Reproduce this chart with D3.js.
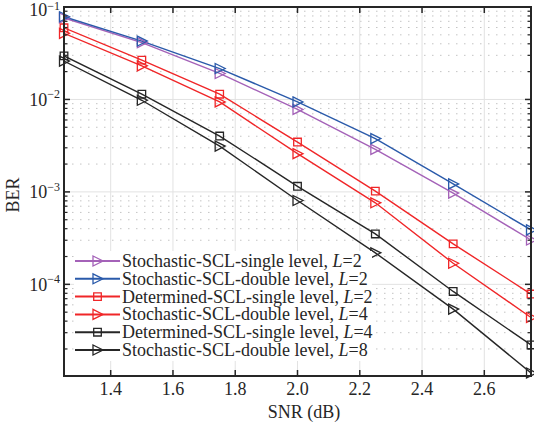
<!DOCTYPE html>
<html>
<head>
<meta charset="utf-8">
<script src="https://cdn.jsdelivr.net/npm/d3@7"></script>
<style>
    body { margin: 0; background: #fff; }
    #chart { width: 534px; height: 428px; }
    text { font-family: "Liberation Serif", "Times New Roman", serif; fill: #262626; }
</style>
</head>
<body>
<div id="chart"></div>
<script>
// SNR points (dB)
const snr = [1.25, 1.5, 1.75, 2.0, 2.25, 2.5, 2.75];

// BER values
const berStochSingleL2 = [0.076, 0.0412, 0.0191, 0.0078, 0.00288, 0.00097, 0.000302];
const berStochDoubleL2 = [0.0785, 0.0428, 0.0216, 0.0094, 0.00377, 0.00122, 0.000388];
const berDetSingleL2 = [0.0596, 0.0266, 0.0114, 0.00346, 0.00102, 0.000274, 0.0000785];
const berStochDoubleL4 = [0.0519, 0.0231, 0.0094, 0.00259, 0.000762, 0.000169, 0.0000438];
const berDetSingleL4 = [0.0296, 0.0114, 0.00402, 0.00115, 0.000351, 0.0000838, 0.0000221];
const berStochDoubleL8 = [0.026, 0.0098, 0.00313, 0.000807, 0.000219, 0.000054, 0.000011];

const seriesNames = [
    'Stochastic-SCL-single level, ',
    'Stochastic-SCL-double level, ',
    'Determined-SCL-single level, ',
    'Stochastic-SCL-double level, ',
    'Determined-SCL-single level, ',
    'Stochastic-SCL-double level, '
];
const listSizes = ['2', '2', '2', '4', '4', '8'];

const xTicks = [1.4, 1.6, 1.8, 2.0, 2.2, 2.4, 2.6];
const yTicks = [1e-1, 1e-2, 1e-3, 1e-4];
const yTickExp = ['\u22121', '\u22122', '\u22123', '\u22124'];

class LineVis {

    constructor(parentElement) {
        this.parentElement = parentElement;
        this.series = [berStochSingleL2, berStochDoubleL2, berDetSingleL2,
                       berStochDoubleL4, berDetSingleL4, berStochDoubleL8];
        this.styles = [
            {color: '#a462b8', marker: 'tri'},
            {color: '#2a5aaa', marker: 'tri'},
            {color: '#f02628', marker: 'sq'},
            {color: '#f02628', marker: 'tri'},
            {color: '#262626', marker: 'sq'},
            {color: '#262626', marker: 'tri'}
        ];
        this.initVis();
    }

    initVis() {
        let vis = this;

        vis.margin = {top: 7, right: 3, bottom: 52, left: 64};
        vis.width = 534 - vis.margin.left - vis.margin.right;
        vis.height = 428 - vis.margin.top - vis.margin.bottom;

        vis.root = d3.select('#' + vis.parentElement).append('svg')
            .attr('width', 534)
            .attr('height', 428);

        vis.svg = vis.root.append('g')
            .attr('transform', `translate(${vis.margin.left},${vis.margin.top})`);

        vis.xScale = d3.scaleLinear()
            .domain([1.25, 2.75])
            .range([0, vis.width]);

        vis.yScale = d3.scaleLog()
            .domain([1.02e-5, 1e-1])
            .range([vis.height, 0]);

        vis.svg.append('clipPath').attr('id', 'plotClip')
            .append('rect').attr('width', vis.width).attr('height', vis.height);

        vis.updateVis();
    }

    updateVis() {
        let vis = this;

        // minor y grid (dotted)
        let minors = [];
        for (let e = -5; e < -1; e++) {
            for (let k = 2; k <= 9; k++) {
                let v = k * Math.pow(10, e);
                if (v > vis.yScale.domain()[0] && v < 1e-1) minors.push(v);
            }
        }
        vis.svg.append('g').selectAll('line')
            .data(minors)
            .enter().append('line')
            .attr('x1', 0).attr('x2', vis.width)
            .attr('y1', d => vis.yScale(d)).attr('y2', d => vis.yScale(d))
            .attr('stroke', '#c4c4c4')
            .attr('stroke-width', 1)
            .attr('stroke-dasharray', '1.5,6.5');

        // major grid
        vis.svg.append('g').selectAll('line')
            .data(xTicks)
            .enter().append('line')
            .attr('x1', d => vis.xScale(d)).attr('x2', d => vis.xScale(d))
            .attr('y1', 0).attr('y2', vis.height)
            .attr('stroke', '#e2e2e2');
        vis.svg.append('g').selectAll('line')
            .data(yTicks)
            .enter().append('line')
            .attr('x1', 0).attr('x2', vis.width)
            .attr('y1', d => vis.yScale(d)).attr('y2', d => vis.yScale(d))
            .attr('stroke', '#e2e2e2');

        // lines
        let line = d3.line()
            .x((d, i) => vis.xScale(snr[i]))
            .y(d => vis.yScale(d));

        vis.svg.append('g').attr('clip-path', 'url(#plotClip)')
            .selectAll('path')
            .data(vis.series)
            .enter().append('path')
            .attr('d', line)
            .attr('fill', 'none')
            .attr('stroke', (d, i) => vis.styles[i].color)
            .attr('stroke-width', 1.4);

        // markers
        vis.series.forEach((s, i) => {
            vis.drawMarkers(vis.svg, s.map((v, j) => [vis.xScale(snr[j]), vis.yScale(v)]), vis.styles[i]);
        });

        // legend
        let legend = vis.svg.append('g');
        legend.append('rect')
            .attr('x', 10).attr('y', 244)
            .attr('width', 298).attr('height', 110)
            .attr('fill', '#fff');
        let rowY = d => 254 + d * 17.8;
        seriesNames.forEach((name, i) => {
            let g = legend.append('g').attr('transform', `translate(0,${rowY(i)})`);
            g.append('line')
                .attr('x1', 11).attr('x2', 56)
                .attr('y1', 0).attr('y2', 0)
                .attr('stroke', vis.styles[i].color)
                .attr('stroke-width', 2);
            vis.drawMarkers(g, [[33.5, 0]], vis.styles[i]);
            let t = g.append('text')
                .attr('x', 58).attr('y', 6)
                .style('font-size', '18px');
            t.append('tspan').text(name);
            t.append('tspan').style('font-style', 'italic').text('L');
            t.append('tspan').text('=' + listSizes[i]);
        });

        // axes box
        let ax = vis.svg.append('g');
        ax.append('rect')
            .attr('width', vis.width).attr('height', vis.height)
            .attr('fill', 'none')
            .attr('stroke', '#262626')
            .attr('stroke-width', 2);

        // x ticks, bottom and top
        xTicks.forEach(t => {
            let x = vis.xScale(t);
            ax.append('line').attr('x1', x).attr('x2', x).attr('y1', vis.height).attr('y2', vis.height - 6)
                .attr('stroke', '#262626').attr('stroke-width', 1.5);
            ax.append('line').attr('x1', x).attr('x2', x).attr('y1', 0).attr('y2', 6)
                .attr('stroke', '#262626').attr('stroke-width', 1.5);
            ax.append('text')
                .attr('x', x).attr('y', vis.height + 19)
                .attr('text-anchor', 'middle')
                .style('font-size', '18px')
                .text(d3.format('.1f')(t));
        });

        // y ticks, left and right
        yTicks.forEach((t, i) => {
            let y = vis.yScale(t);
            [[0, 6], [vis.width, vis.width - 6]].forEach(p => {
                ax.append('line').attr('x1', p[0]).attr('x2', p[1]).attr('y1', y).attr('y2', y)
                    .attr('stroke', '#262626').attr('stroke-width', 1.5);
            });
            // the top label sits a little lower so it stays inside the page
            let base = i === 0 ? y + 8.5 : y + 6.5;
            let lab = ax.append('text')
                .attr('x', -4).attr('y', base)
                .attr('text-anchor', 'end')
                .style('font-size', '18px');
            lab.append('tspan').text('10');
            lab.append('tspan').attr('dy', i === 0 ? -6 : -7.5).style('font-size', '12px').text(yTickExp[i]);
        });
        minors.forEach(v => {
            let y = vis.yScale(v);
            [[0, 3.5], [vis.width, vis.width - 3.5]].forEach(p => {
                ax.append('line').attr('x1', p[0]).attr('x2', p[1]).attr('y1', y).attr('y2', y)
                    .attr('stroke', '#262626').attr('stroke-width', 1.2);
            });
        });

        // axis titles
        vis.svg.append('text')
            .attr('x', 240).attr('y', vis.height + 42)
            .attr('text-anchor', 'middle')
            .style('font-size', '18px')
            .text('SNR (dB)');
        vis.svg.append('text')
            .attr('transform', `translate(${-45},${188}) rotate(-90)`)
            .attr('text-anchor', 'middle')
            .style('font-size', '18px')
            .text('BER');
    }

    drawMarkers(parent, pts, style) {
        let triPath = 'M-4.5,-5L5.5,0L-4.5,5Z';
        parent.append('g').selectAll('path')
            .data(pts)
            .enter().append('path')
            .attr('transform', d => `translate(${d[0]},${d[1]})`)
            .attr('d', style.marker === 'tri' ? triPath : 'M-3.8,-3.8H3.8V3.8H-3.8Z')
            .attr('fill', 'none')
            .attr('stroke', style.color)
            .attr('stroke-width', 1.3);
    }
}

new LineVis('chart');
</script>
</body>
</html>
